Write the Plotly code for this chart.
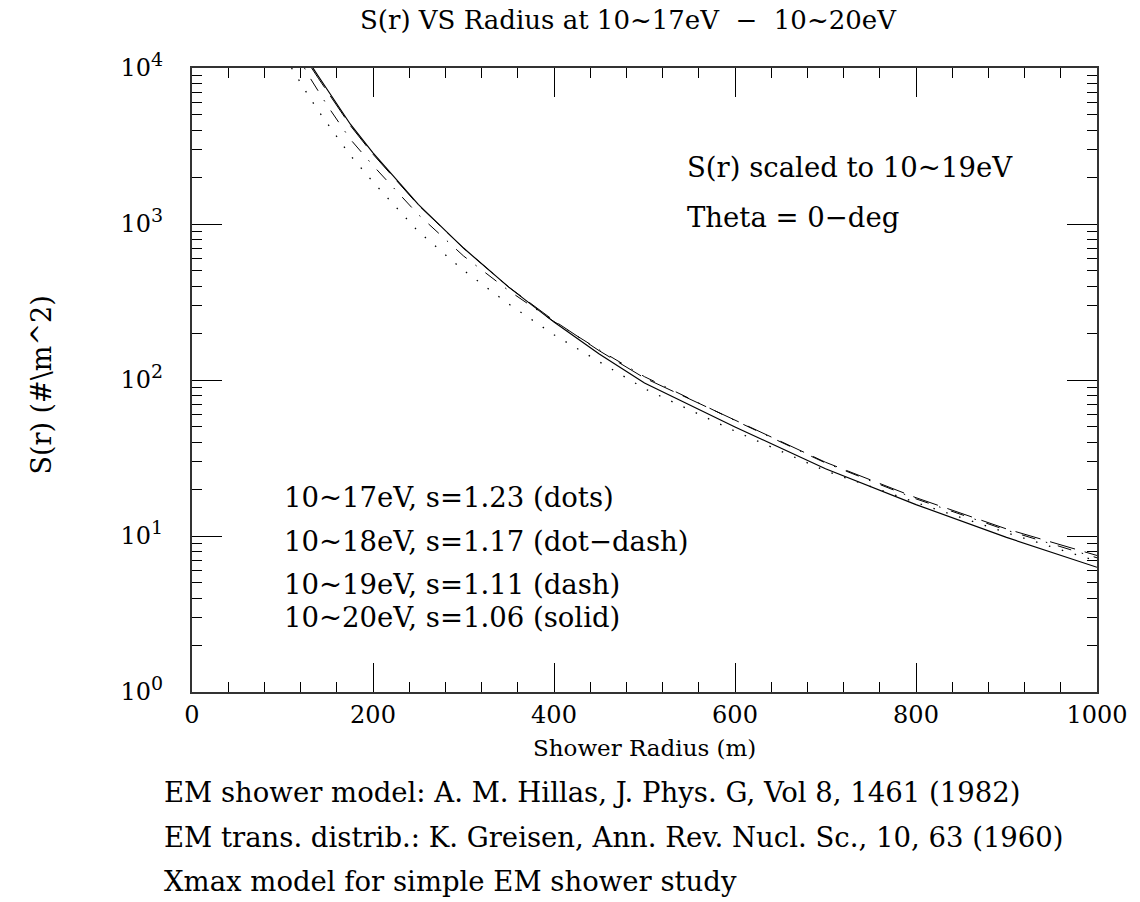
import plotly.graph_objects as go

# Data (Shower radius in m, S(r) in #/m^2)
radius = [110, 120, 130, 140, 150, 175, 200, 250, 300, 350, 400, 450, 500, 600, 700, 800, 900, 1000]
s_e17_dots = [10000, 8000, 6460, 5270, 4390, 2750, 1860, 896, 505, 307, 195, 131, 88, 47, 26.2, 16.4, 10.5, 6.9]
s_e18_dotdash = [13700, 11070, 8720, 7030, 5690, 3490, 2370, 1150, 624, 374, 237, 156, 105, 55, 29.4, 17.3, 10.9, 7.25]
s_e19_dash = [16200, 12940, 10450, 8530, 6980, 4270, 2800, 1324, 701, 394, 240, 154, 103, 55, 29.7, 17.6, 11.1, 7.5]
s_e20_solid = [16700, 13340, 10770, 8790, 7200, 4360, 2860, 1337, 701, 394, 235, 147, 95.7, 50.0, 27.0, 15.9, 9.8, 6.3]

x_tickvals = [0, 200, 400, 600, 800, 1000]
y_tickvals = [1, 10, 100, 1000, 10000]
y_exponents = ["0", "1", "2", "3", "4"]
y_minor_tickvals = [m * 10 ** d for d in range(4) for m in range(2, 10)]

title_text = "S(r) VS Radius at 10~17eV  \u2212  10~20eV"
legend_lines = [
    "10~17eV, s=1.23 (dots)",
    "10~18eV, s=1.17 (dot\u2212dash)",
    "10~19eV, s=1.11 (dash)",
    "10~20eV, s=1.06 (solid)",
]
info_lines = ["S(r) scaled to 10~19eV", "Theta = 0\u2212deg"]
footer_lines = [
    "EM shower model: A. M. Hillas, J. Phys. G, Vol 8, 1461 (1982)",
    "EM trans. distrib.: K. Greisen, Ann. Rev. Nucl. Sc., 10, 63 (1960)",
    "Xmax model for simple EM shower study",
]
x_title = "Shower Radius (m)"
y_title = "S(r) (#\\m^2)"

FONT = "DejaVu Serif, Liberation Serif, serif"

y_ticktext = ["10<sup><span style='font-size:19px'>%s</span></sup>" % e for e in y_exponents]

fig = go.Figure()
series = [
    (s_e17_dots, "1.5px,12px", 1.3),
    (s_e18_dotdash, "14px,11px,1.5px,11px", 1.0),
    (s_e19_dash, "26px,10px", 1.0),
    (s_e20_solid, "solid", 1.2),
]
for ys, dash, w in series:
    fig.add_trace(go.Scatter(x=radius, y=ys, mode="lines",
                             line=dict(color="black", width=w, dash=dash),
                             showlegend=False, hoverinfo="skip"))

# plot area in pixels
L, R, T, B = 192, 1100, 68, 692
W, H = 1140, 902

def px(xp):
    return (xp - L) / (R - L)

def py(yp):
    return (B - yp) / (B - T)

TXT = 27.5
ann = []
ann.append(dict(text=title_text, x=px(630), y=py(20), font=dict(size=26)))
ann.append(dict(text=info_lines[0], x=px(687), y=py(167), xanchor="left", font=dict(size=TXT)))
ann.append(dict(text=info_lines[1], x=px(687), y=py(217), xanchor="left", font=dict(size=TXT)))
for t, yy in zip(legend_lines, [497, 541, 584, 617]):
    ann.append(dict(text=t, x=px(282), y=py(yy), xanchor="left", font=dict(size=TXT)))
for t, yy in zip(footer_lines, [792, 837, 881]):
    ann.append(dict(text=t, x=px(162), y=py(yy), xanchor="left", font=dict(size=TXT)))
ann.append(dict(text=y_title, x=px(40), y=py(385), textangle=-90, font=dict(size=27)))
ann.append(dict(text=x_title, x=px(646), y=py(748), font=dict(size=23)))
for a in ann:
    a.update(xref="paper", yref="paper", showarrow=False,
             yanchor="middle", font=dict(family=FONT, color="black", size=a["font"]["size"]))
    a.setdefault("xanchor", "center")

fig.update_layout(
    width=W, height=H,
    margin=dict(l=L, r=W - R, t=T, b=H - B),
    paper_bgcolor="white", plot_bgcolor="white",
    font=dict(family=FONT, color="black"),
    annotations=ann,
)
fig.update_xaxes(
    range=[0, 1000], tickvals=x_tickvals, ticks="inside", ticklen=29, tickwidth=1.3,
    tickcolor="black", showline=True, linecolor="#333", linewidth=2, mirror="allticks",
    showgrid=False, zeroline=False, tickfont=dict(size=24, family=FONT),
    minor=dict(dtick=40, ticks="inside", ticklen=10, tickwidth=1.2, tickcolor="black", showgrid=False),
)
fig.update_yaxes(
    type="log", range=[0, 4], tickvals=y_tickvals, ticktext=y_ticktext,
    ticks="inside", ticklen=30, tickwidth=1.3, tickcolor="black",
    showline=True, linecolor="#333", linewidth=2, mirror="allticks",
    showgrid=False, zeroline=False, tickfont=dict(size=24, family=FONT),
    ticklabelstandoff=22,
    minor=dict(tickvals=y_minor_tickvals, ticks="inside", ticklen=10, tickwidth=1.2,
               tickcolor="black", showgrid=False),
)

fig.write_html("out.html")
